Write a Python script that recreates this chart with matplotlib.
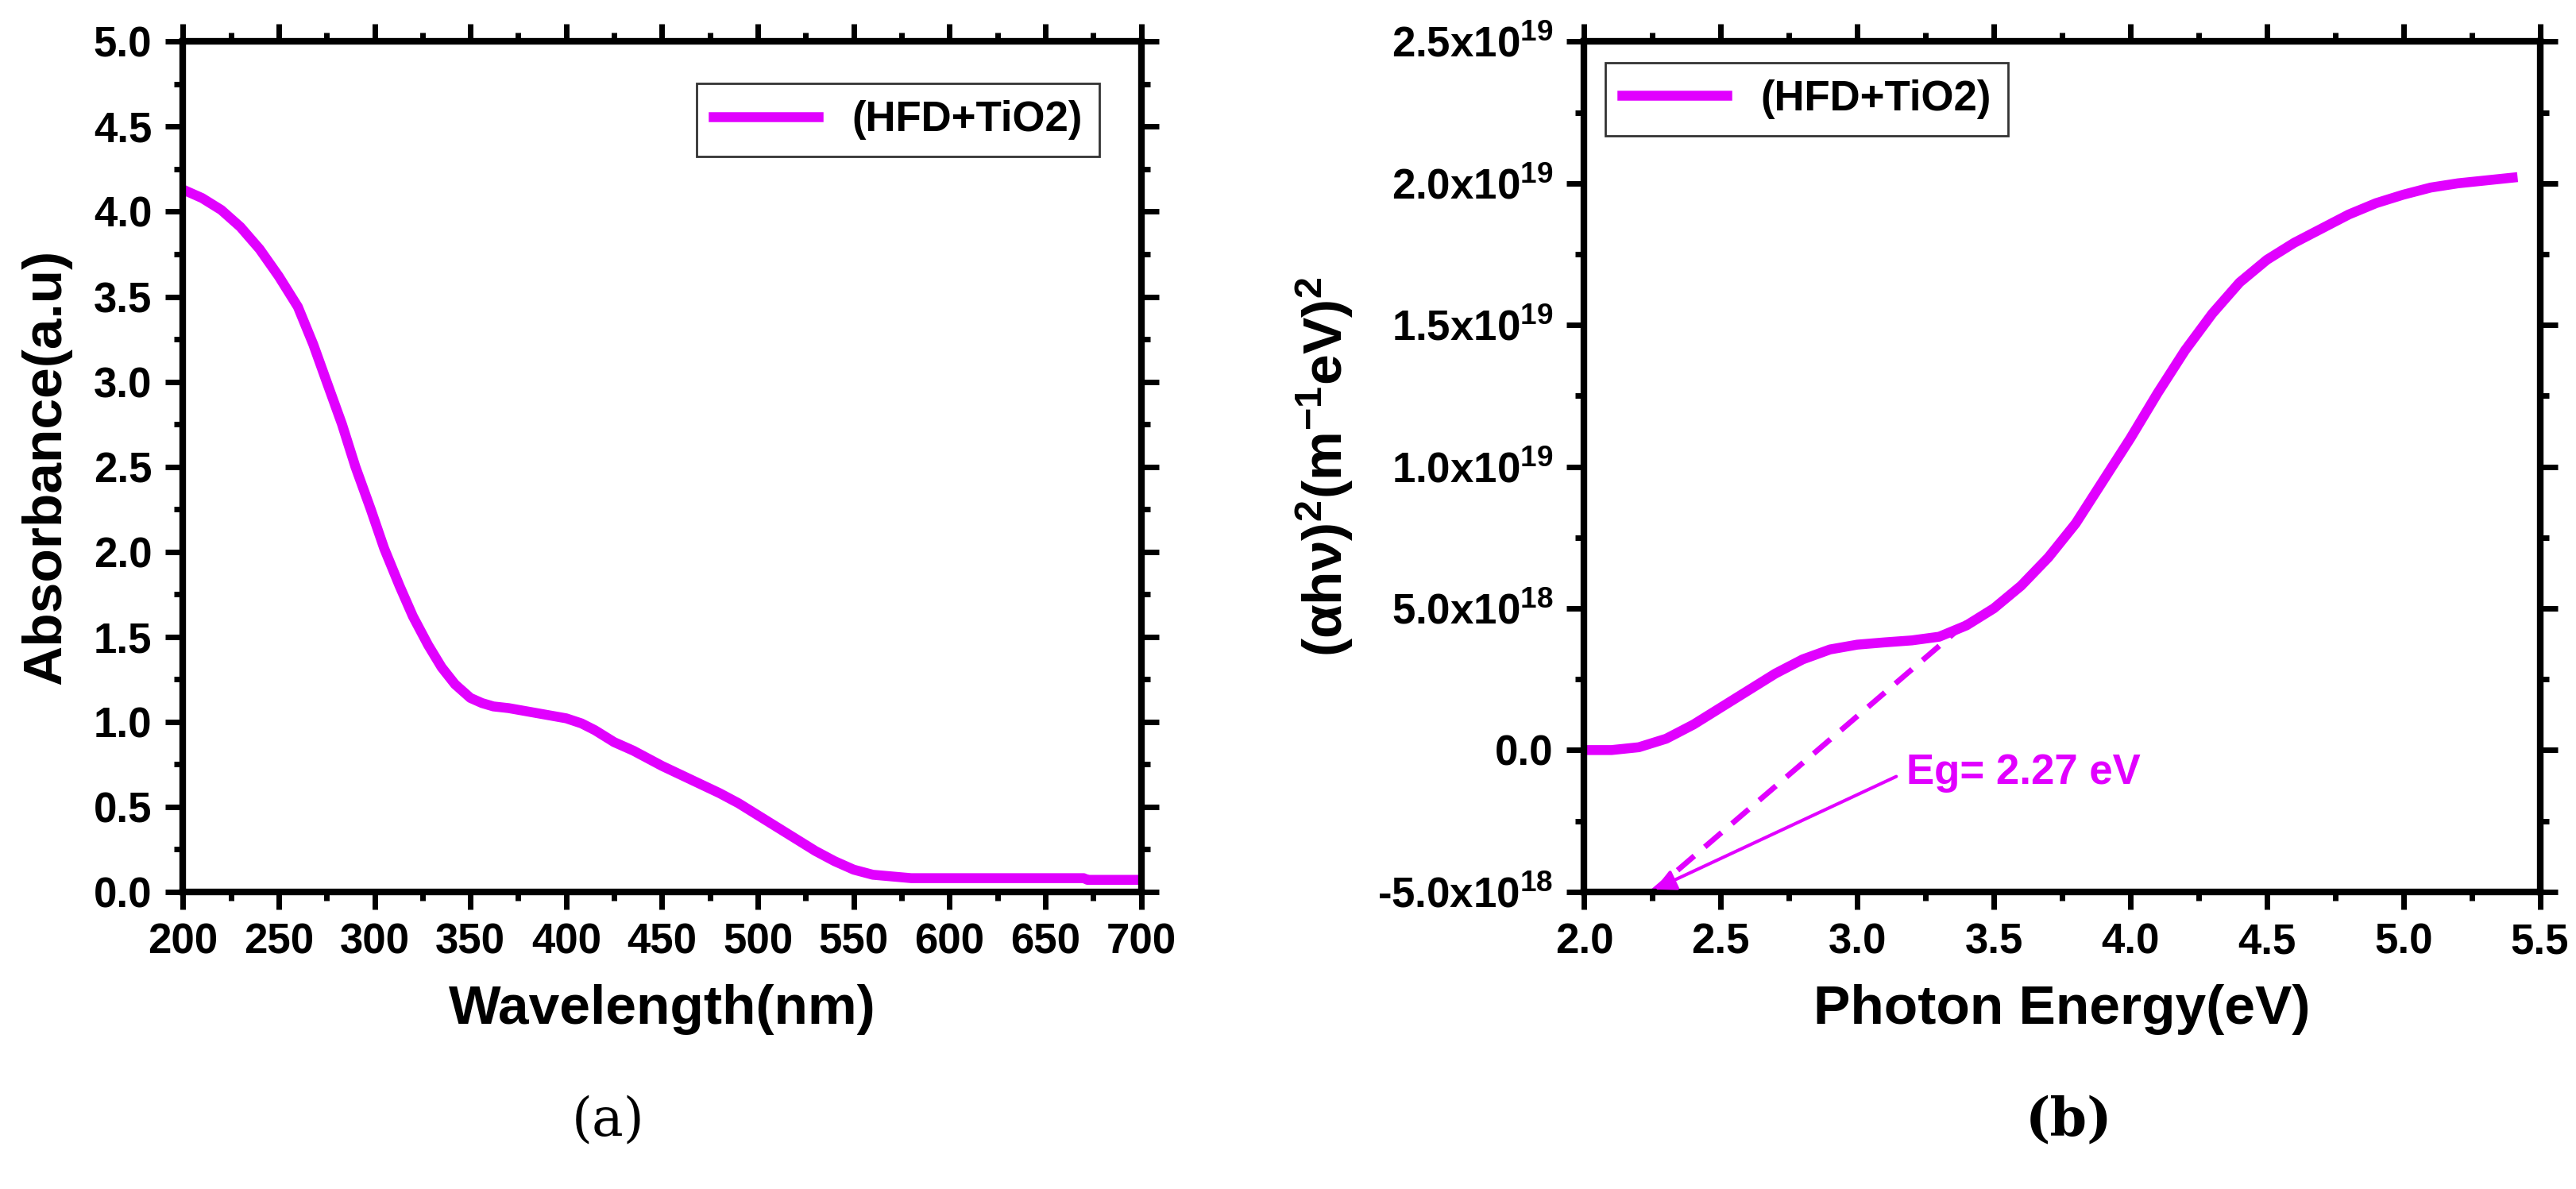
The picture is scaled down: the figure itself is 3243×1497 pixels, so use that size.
import matplotlib
matplotlib.use('Agg')
import matplotlib.pyplot as plt

plt.rcParams['font.family'] = ['Liberation Sans', 'DejaVu Sans']
plt.rcParams['font.weight'] = 'bold'
plt.rcParams['mathtext.default'] = 'regular'

magenta = '#E100FF'

# (a) absorbance
wl = [200, 210, 220, 230, 240, 250, 260, 268, 275, 283, 290, 298, 305, 313, 320, 328, 335,
      342, 350, 356, 362, 370, 380, 390, 400, 408, 415, 425, 435, 450, 465, 480, 490, 500,
      510, 520, 530, 540, 550, 560, 570, 580, 620, 670, 672, 700]
absb = [4.13, 4.08, 4.01, 3.91, 3.78, 3.62, 3.44, 3.22, 3.00, 2.75, 2.50, 2.25, 2.02, 1.80,
        1.62, 1.45, 1.32, 1.22, 1.14, 1.11, 1.09, 1.08, 1.06, 1.04, 1.02, 0.99, 0.95, 0.88,
        0.83, 0.74, 0.66, 0.58, 0.52, 0.45, 0.38, 0.31, 0.24, 0.18, 0.13, 0.10, 0.09, 0.08,
        0.08, 0.08, 0.07, 0.07]

# (b) Tauc plot, values in units of 1e18
energy = [2.0, 2.1, 2.2, 2.3, 2.4, 2.5, 2.6, 2.7, 2.8, 2.9, 3.0, 3.1, 3.2, 3.3, 3.4, 3.5,
          3.6, 3.7, 3.8, 3.9, 4.0, 4.1, 4.2, 4.3, 4.4, 4.5, 4.6, 4.7, 4.8, 4.9, 5.0, 5.1,
          5.2, 5.3, 5.4]
tauc = [0.0, 0.0, 0.1, 0.4, 0.9, 1.5, 2.1, 2.7, 3.2, 3.55, 3.72, 3.8, 3.87, 4.0, 4.4, 5.0,
        5.8, 6.8, 8.0, 9.5, 11.0, 12.6, 14.1, 15.4, 16.5, 17.3, 17.9, 18.4, 18.9, 19.3,
        19.6, 19.85, 20.0, 20.1, 20.2]
fit_x = [3.4, 2.25]
fit_y = [4.5, -5.0]

fig = plt.figure(figsize=(32.43, 14.97), dpi=100)
ax1 = fig.add_axes([0.071, 0.25, 0.372, 0.715])
ax2 = fig.add_axes([0.615, 0.25, 0.371, 0.715])

tick_fs = 38
lab_fs = 50


def style(ax):
    for s in ax.spines.values():
        s.set_linewidth(6)
    ax.tick_params(which='major', direction='out', length=16, width=5, labelsize=tick_fs,
                   top=True, right=True, pad=12)
    ax.tick_params(which='minor', direction='out', length=8, width=5, top=True, right=True)
    for t in ax.get_xticklabels() + ax.get_yticklabels():
        t.set_fontweight('bold')


ax1.plot(wl, absb, color=magenta, lw=9, label='(HFD+TiO2)')
ax1.set_xlim(200, 700)
ax1.set_ylim(0, 5)
ax1.set_xticks(range(200, 701, 50))
ax1.set_xticks(range(225, 700, 50), minor=True)
ax1.set_yticks([i * 0.5 for i in range(11)])
ax1.set_yticks([0.25 + i * 0.5 for i in range(10)], minor=True)
ax1.set_yticklabels(['%.1f' % (i * 0.5) for i in range(11)])
style(ax1)
ax1.set_xlabel('Wavelength(nm)', fontsize=lab_fs, fontweight='bold', labelpad=20)
ax1.set_ylabel('Absorbance(a.u)', fontsize=lab_fs, fontweight='bold', labelpad=20)
leg = ax1.legend(loc='upper right', fontsize=38, fancybox=False, edgecolor='black',
                 handlelength=2.5, borderaxespad=1.0)
leg.get_frame().set_linewidth(2)

ax2.plot(energy, tauc, color=magenta, lw=9, label='(HFD+TiO2)')
ax2.plot(fit_x, fit_y, color=magenta, lw=5, ls=(0, (4, 2.5)))
ax2.annotate('', xy=(2.25, -4.95), xytext=(3.15, -0.9),
             arrowprops=dict(arrowstyle='-|>', color=magenta, lw=3, mutation_scale=40))
ax2.text(3.18, -0.8, 'Eg= 2.27 eV', color=magenta, fontsize=38, fontweight='bold', va='center')
ax2.set_xlim(2.0, 5.5)
ax2.set_ylim(-5, 25)
ax2.set_xticks([2.0 + 0.5 * i for i in range(8)])
ax2.set_xticks([2.25 + 0.5 * i for i in range(7)], minor=True)
ax2.set_xticklabels(['%.1f' % (2.0 + 0.5 * i) for i in range(8)])
yt = [-5, 0, 5, 10, 15, 20, 25]
ylabels = [r'-5.0x10$^{18}$', '0.0', r'5.0x10$^{18}$', r'1.0x10$^{19}$',
           r'1.5x10$^{19}$', r'2.0x10$^{19}$', r'2.5x10$^{19}$']
ax2.set_yticks(yt)
ax2.set_yticks([-2.5, 2.5, 7.5, 12.5, 17.5, 22.5], minor=True)
ax2.set_yticklabels(ylabels)
style(ax2)
ax2.set_xlabel('Photon Energy(eV)', fontsize=lab_fs, fontweight='bold', labelpad=20)
ax2.set_ylabel('(\u03b1h\u03bd)$^2$(m$^{-1}$eV)$^2$', fontsize=lab_fs,
               fontweight='bold', labelpad=20)
leg2 = ax2.legend(loc='upper left', fontsize=38, fancybox=False, edgecolor='black',
                  handlelength=2.5, borderaxespad=0.5)
leg2.get_frame().set_linewidth(2)

fig.text(0.236, 0.045, '(a)', fontsize=48, fontweight='normal', family='DejaVu Serif', ha='center')
fig.text(0.803, 0.045, '(b)', fontsize=48, fontweight='bold', family='DejaVu Serif', ha='center')

fig.savefig('out.png', dpi=100)
